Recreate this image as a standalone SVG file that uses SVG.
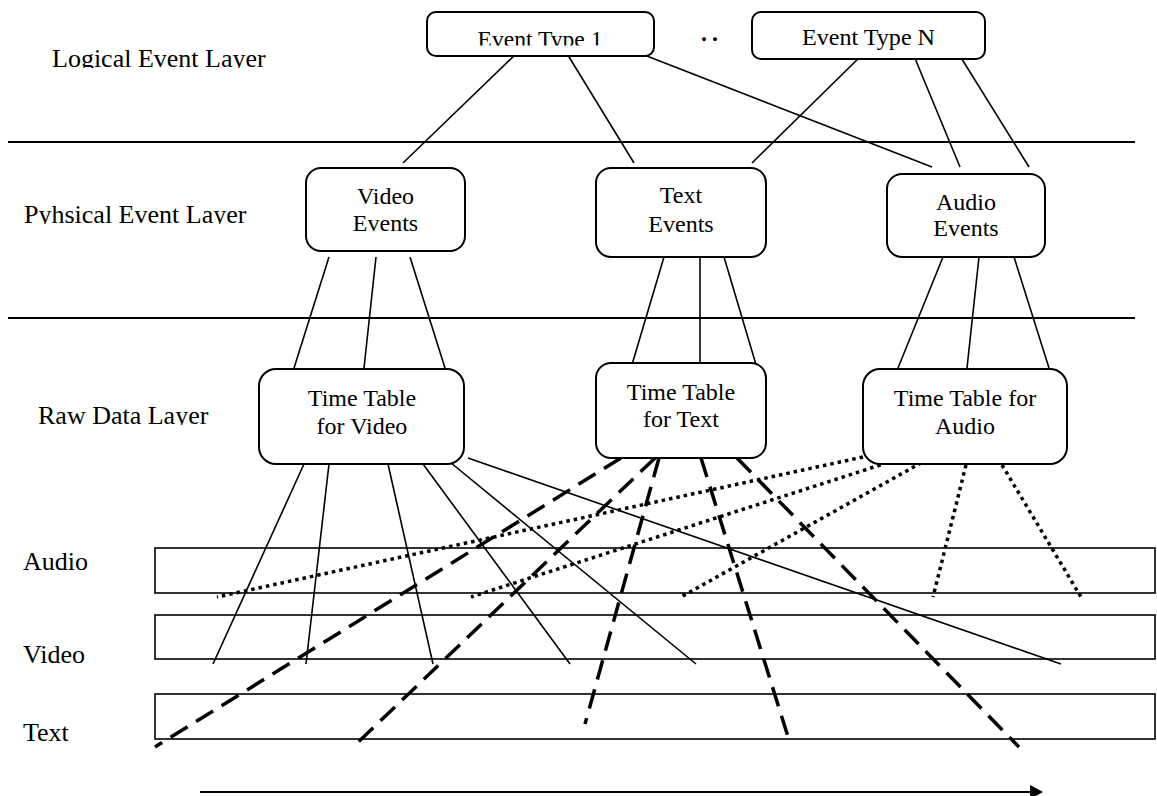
<svg xmlns="http://www.w3.org/2000/svg" width="1157" height="796" viewBox="0 0 1157 796">
<style>
.box{fill:#fff;stroke:#000;stroke-width:2}
.bar{fill:#fff;stroke:#000;stroke-width:1.6}
.lbl{font-family:"Liberation Serif","Times New Roman",serif;font-size:26px;fill:#000}
.t{font-family:"Liberation Serif","Times New Roman",serif;font-size:24px;fill:#000;text-anchor:middle}
.sep{stroke:#000;stroke-width:2}
.ln{stroke:#000;stroke-width:1.6;fill:none}
.dash{stroke:#000;stroke-width:3.5;fill:none;stroke-dasharray:20 10}
.dot{stroke:#000;stroke-width:3.5;fill:none;stroke-dasharray:3.5 4}
</style>
<defs>
<clipPath id="c1"><rect x="0" y="0" width="1157" height="68"/></clipPath>
<clipPath id="c2"><rect x="0" y="0" width="1157" height="224"/></clipPath>
<clipPath id="c3"><rect x="0" y="0" width="1157" height="425"/></clipPath>
<clipPath id="c4"><rect x="0" y="0" width="1157" height="45.5"/></clipPath>
<marker id="ah" markerWidth="16" markerHeight="16" refX="2" refY="8" orient="auto" markerUnits="userSpaceOnUse"><path d="M2,1 L15,8 L2,15 Z" fill="#000"/></marker>
</defs>

<g id="layer-labels">
<text class="lbl" x="52" y="67" clip-path="url(#c1)">Logical Event Layer</text>
<text class="lbl" x="24" y="223" clip-path="url(#c2)">Pyhsical Event Layer</text>
<text class="lbl" x="38" y="424" clip-path="url(#c3)">Raw Data Layer</text>
<text class="lbl" x="23" y="570">Audio</text>
<text class="lbl" x="23" y="663">Video</text>
<text class="lbl" x="23" y="741">Text</text>
</g>

<g id="separators">
<line class="sep" x1="8" y1="142" x2="1135" y2="142"/>
<line class="sep" x1="8" y1="318" x2="1135" y2="318"/>
</g>

<g id="tracks">
<rect class="bar" x="155" y="548" width="1000" height="45"/>
<rect class="bar" x="155" y="615" width="1000" height="44"/>
<rect class="bar" x="155" y="694" width="1000" height="45"/>
</g>

<g id="connectors">
<line class="ln" x1="518" y1="52" x2="403" y2="163"/>
<line class="ln" x1="566" y1="52" x2="634" y2="163"/>
<line class="ln" x1="634" y1="51" x2="932" y2="167"/>
<line class="ln" x1="865" y1="52" x2="752" y2="163"/>
<line class="ln" x1="914" y1="56" x2="960" y2="167"/>
<line class="ln" x1="960" y1="56" x2="1029" y2="167"/>

<line class="ln" x1="329" y1="257" x2="294" y2="368"/>
<line class="ln" x1="376" y1="257" x2="364" y2="368"/>
<line class="ln" x1="410" y1="257" x2="445" y2="368"/>
<line class="ln" x1="664" y1="257" x2="631" y2="368"/>
<line class="ln" x1="700" y1="257" x2="700" y2="368"/>
<line class="ln" x1="724" y1="257" x2="757" y2="368"/>
<line class="ln" x1="943" y1="257" x2="898" y2="368"/>
<line class="ln" x1="979" y1="257" x2="967" y2="368"/>
<line class="ln" x1="1014" y1="257" x2="1049" y2="368"/>

<line class="ln" x1="304" y1="464" x2="213" y2="664"/>
<line class="ln" x1="329" y1="464" x2="306" y2="664"/>
<line class="ln" x1="388" y1="464" x2="433" y2="664"/>
<line class="ln" x1="423" y1="464" x2="570" y2="664"/>
<line class="ln" x1="445" y1="458" x2="696" y2="664"/>
<line class="ln" x1="468" y1="458" x2="1061" y2="664"/>

<line class="dash" x1="621" y1="458" x2="155" y2="747"/>
<line class="dash" x1="655" y1="458" x2="353" y2="747"/>
<line class="dash" x1="659" y1="458" x2="585" y2="724"/>
<line class="dash" x1="701" y1="458" x2="789" y2="740"/>
<line class="dash" x1="737" y1="458" x2="1019" y2="747"/>

<line class="dot" x1="863" y1="457" x2="217" y2="597"/>
<line class="dot" x1="902" y1="458" x2="471" y2="597"/>
<line class="dot" x1="928" y1="459" x2="681" y2="597"/>
<line class="dot" x1="966" y1="465" x2="933" y2="597"/>
<line class="dot" x1="1002" y1="465" x2="1081" y2="597"/>

<line class="sep" x1="200" y1="792" x2="1030" y2="792" marker-end="url(#ah)"/>
</g>

<g id="event-type-1">
<rect class="box" x="427" y="12" width="227" height="44" rx="9"/>
<text class="t" x="540" y="47" font-size="22" textLength="125" lengthAdjust="spacingAndGlyphs" clip-path="url(#c4)">Event Type 1</text>
</g>
<g id="ellipsis">
<text class="t" x="712" y="41" font-size="24" font-weight="bold" letter-spacing="5">..</text>
</g>
<g id="event-type-n">
<rect class="box" x="752" y="12" width="233" height="47" rx="9"/>
<text class="t" x="868.5" y="45" font-size="22" textLength="133" lengthAdjust="spacingAndGlyphs">Event Type N</text>
</g>

<g id="video-events">
<rect class="box" x="306" y="168" width="159" height="83" rx="15"/>
<text class="t" x="385.5" y="204">Video</text>
<text class="t" x="385.5" y="231">Events</text>
</g>
<g id="text-events">
<rect class="box" x="596" y="168" width="170" height="89" rx="15"/>
<text class="t" x="681" y="203">Text</text>
<text class="t" x="681" y="232">Events</text>
</g>
<g id="audio-events">
<rect class="box" x="887" y="174" width="158" height="83" rx="15"/>
<text class="t" x="966" y="210">Audio</text>
<text class="t" x="966" y="236">Events</text>
</g>

<g id="tt-video">
<rect class="box" x="259" y="369" width="205" height="95" rx="17"/>
<text class="t" x="362" y="406">Time Table</text>
<text class="t" x="362" y="434">for Video</text>
</g>
<g id="tt-text">
<rect class="box" x="596" y="363" width="170" height="95" rx="15"/>
<text class="t" x="681" y="400">Time Table</text>
<text class="t" x="681" y="427">for Text</text>
</g>
<g id="tt-audio">
<rect class="box" x="863" y="369" width="204" height="95" rx="17"/>
<text class="t" x="965" y="406">Time Table for</text>
<text class="t" x="965" y="434">Audio</text>
</g>
</svg>
